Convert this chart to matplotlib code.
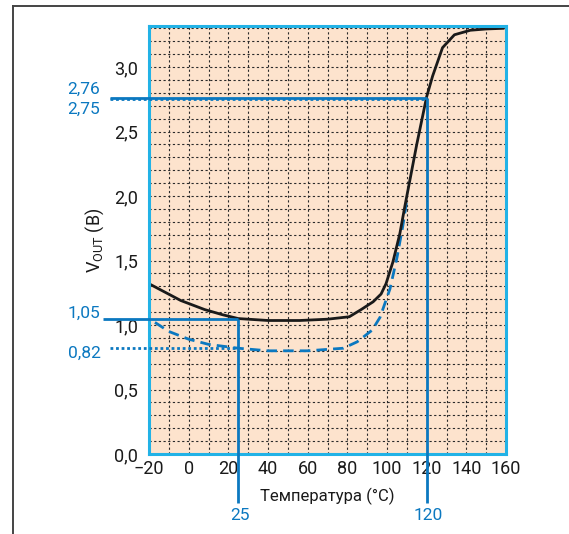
import matplotlib
matplotlib.use("Agg")
import matplotlib.pyplot as plt
from matplotlib.lines import Line2D
import numpy as np

plt.rcParams['font.family'] = ['Roboto', 'DejaVu Sans']

# Solid curve (V_OUT)
t_solid = [-20, -4, 8, 17, 25, 40, 56, 70, 81, 87, 93, 97, 99.5, 103, 106.5, 109, 111.5, 115, 120, 123, 128, 134, 142, 150, 158.5]
v_solid = [1.32, 1.19, 1.12, 1.08, 1.05, 1.035, 1.035, 1.045, 1.064, 1.12, 1.18, 1.24, 1.32, 1.49, 1.71, 1.92, 2.12, 2.40, 2.77, 2.93, 3.15, 3.25, 3.285, 3.295, 3.30]
# Dashed curve
t_dash = [-17, -10, 0, 10, 25, 40, 60, 78, 85, 92.5, 96.5, 99, 101.5, 105, 108, 110]
v_dash = [1.02, 0.95, 0.89, 0.85, 0.82, 0.80, 0.80, 0.82, 0.87, 0.96, 1.06, 1.17, 1.28, 1.52, 1.77, 1.97]

# Marked points
t_marks = [25, 120]
v_marks_solid = [1.05, 2.76]
v_marks_dot = [0.82, 2.75]

xticks = [-20, 0, 20, 40, 60, 80, 100, 120, 140, 160]
xticklabels = ['\u221220', '0', '20', '40', '60', '80', '100', '120', '140', '160']
yticks = [0.0, 0.5, 1.0, 1.5, 2.0, 2.5, 3.0]
yticklabels = ['0,0', '0,5', '1,0', '1,5', '2,0', '2,5', '3,0']

W, H = 569, 534
fig = plt.figure(figsize=(W / 100, H / 100), dpi=100)
ax = fig.add_axes([149 / W, 1 - 454 / H, (506 - 149) / W, (454 - 26) / H])
ax.set_facecolor('#fde3cd')
XMIN, XMAX, YMIN, YMAX = -20, 160, 0, 3.318
ax.set_xlim(XMIN, XMAX)
ax.set_ylim(YMIN, YMAX)

ax.set_xticks(xticks)
ax.set_xticklabels(xticklabels)
ax.set_yticks(yticks)
ax.set_yticklabels(yticklabels)
ax.set_xticks(np.arange(-20, 161, 10), minor=True)
ax.set_yticks(np.arange(0, 3.31, 0.1), minor=True)
ax.tick_params(which='both', length=0)
ax.tick_params(axis='x', pad=4, labelsize=13, colors='#1a1a1a')
ax.tick_params(axis='y', pad=8, labelsize=13, colors='#1a1a1a')
ax.grid(True, which='both', color='#2a2a2a', linestyle=(0, (2.0, 2.2)), linewidth=0.8)
ax.set_axisbelow(True)
for s in ax.spines.values():
    s.set_color('#22b2e6')
    s.set_linewidth(2.2)
    s.set_zorder(6)

BLUE = '#0b78c0'
ax.plot(t_solid, v_solid, color='#1a1a1a', lw=2.0, zorder=5, solid_joinstyle='round')
ax.plot(t_dash, v_dash, color=BLUE, lw=2.0, ls=(0, (3.8, 2.2)), zorder=4)

# Marker lines extending outside the axes
x_left_solid = [-43.2, -39.7]  # start of horizontal lines (data x beyond axes)
ybot = -0.38
for i, (t, vs, vd) in enumerate(zip(t_marks, v_marks_solid, v_marks_dot)):
    xl = x_left_solid[i]
    ax.plot([xl, t], [vs, vs], color=BLUE, lw=2.0, clip_on=False, zorder=7, solid_capstyle='butt')
    ax.plot([t, t], [vs, ybot], color=BLUE, lw=2.0, clip_on=False, zorder=7, solid_capstyle='butt')
    ax.plot([-39.7, t], [vd, vd], color=BLUE, lw=2.0, ls=(0, (1, 1)), clip_on=False, zorder=7,
            dash_capstyle='butt')

# Labels for marked values
lab_x = -44.5
ax.text(lab_x, 2.76 + 0.07, '2,76', color=BLUE, fontsize=12.5, ha='right', va='center', clip_on=False)
ax.text(lab_x, 2.75 - 0.08, '2,75', color=BLUE, fontsize=12.5, ha='right', va='center', clip_on=False)
ax.text(lab_x, 1.05 + 0.04, '1,05', color=BLUE, fontsize=12.5, ha='right', va='center', clip_on=False)
ax.text(lab_x, 0.82 - 0.04, '0,82', color=BLUE, fontsize=12.5, ha='right', va='center', clip_on=False)
for t in t_marks:
    ax.text(t + 0.8, -0.475, str(t), color=BLUE, fontsize=12.5, ha='center', va='center', clip_on=False)

ax.set_xlabel('Температура (°C)', fontsize=12, color='#1a1a1a', labelpad=7)
ax.set_ylabel('V$_{\\mathregular{OUT}}$ (В)', fontsize=13, color='#1a1a1a', labelpad=6)

# Outer frame (left and top lines)
fig.add_artist(Line2D([13 / W, 13 / W], [0, 1 - 6 / H], color='#444444', lw=1.4, transform=fig.transFigure))
fig.add_artist(Line2D([13 / W, 1], [1 - 6 / H, 1 - 6 / H], color='#444444', lw=1.4, transform=fig.transFigure))

fig.savefig('out.png', dpi=100)
